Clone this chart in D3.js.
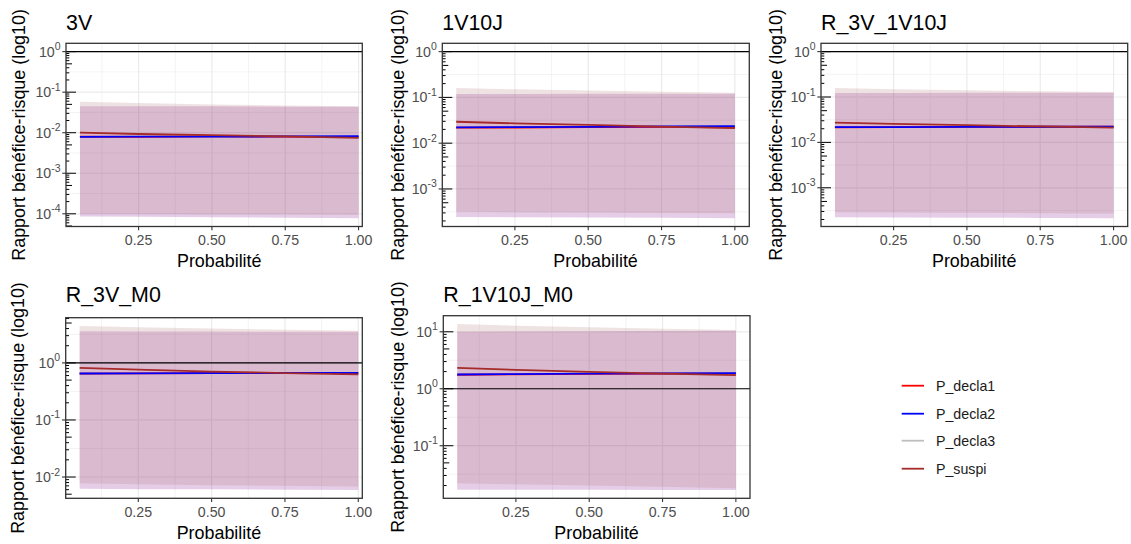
<!DOCTYPE html>
<html><head><meta charset="utf-8">
<script src="https://cdn.jsdelivr.net/npm/d3@7"></script>
<style>body{margin:0;background:#fff} svg{display:block}</style>
</head><body>
<svg id="chart" width="1131" height="544"></svg>
<script>
// ---------------- DATA ----------------
const probabilite = [0.05, 0.25, 0.50, 0.75, 1.00];
const seriesNames = ["P_decla1", "P_decla2", "P_decla3", "P_suspi"];
const seriesColors = ["#ff0000", "#0000ff", "#bebebe", "#a52a2a"];
const panelTitles = ["3V", "1V10J", "R_3V_1V10J", "R_3V_M0", "R_1V10J_M0"];
const xTickValues = [0.25, 0.50, 0.75, 1.00];
const xTickLabels = ["0.25", "0.50", "0.75", "1.00"];
const refLine = 1;

// 3V
const est_3V = [
  [0.0080, 0.0079, 0.0081, 0.0080, 0.0078],
  [0.0079, 0.0080, 0.0080, 0.0081, 0.0082],
  [0.0079, 0.0080, 0.0080, 0.0081, 0.0081],
  [0.0100, 0.0093, 0.0087, 0.0081, 0.0075]
];
const low_3V = [
  [8.6e-5, 8.4e-5, 8.2e-5, 8.0e-5, 7.8e-5],
  [8.6e-5, 8.4e-5, 8.2e-5, 8.0e-5, 7.8e-5],
  [1.0e-4, 9.9e-5, 9.8e-5, 9.7e-5, 9.6e-5],
  [1.0e-4, 9.9e-5, 9.8e-5, 9.7e-5, 9.6e-5]
];
const high_3V = [
  [0.045, 0.045, 0.045, 0.044, 0.044],
  [0.045, 0.045, 0.045, 0.044, 0.044],
  [0.058, 0.054, 0.050, 0.047, 0.045],
  [0.058, 0.054, 0.050, 0.047, 0.045]
];

// 1V10J
const est_1V10J = [
  [0.0218, 0.0220, 0.0225, 0.0228, 0.0222],
  [0.0221, 0.0224, 0.0228, 0.0232, 0.0237],
  [0.0220, 0.0223, 0.0227, 0.0231, 0.0235],
  [0.0294, 0.0271, 0.0250, 0.0231, 0.0214]
];
const low_1V10J = [
  [2.45e-4, 2.42e-4, 2.38e-4, 2.34e-4, 2.3e-4],
  [2.45e-4, 2.42e-4, 2.38e-4, 2.34e-4, 2.3e-4],
  [3.2e-4, 3.1e-4, 3.05e-4, 3.0e-4, 2.95e-4],
  [3.2e-4, 3.1e-4, 3.05e-4, 3.0e-4, 2.95e-4]
];
const high_1V10J = [
  [0.119, 0.119, 0.120, 0.120, 0.120],
  [0.119, 0.119, 0.120, 0.120, 0.120],
  [0.160, 0.150, 0.141, 0.133, 0.127],
  [0.160, 0.150, 0.141, 0.133, 0.127]
];

// R_3V_1V10J
const est_R_3V_1V10J = [
  [0.0214, 0.0216, 0.0219, 0.0221, 0.0222],
  [0.0216, 0.0217, 0.0219, 0.0221, 0.0223],
  [0.0216, 0.0217, 0.0219, 0.0221, 0.0223],
  [0.0274, 0.0257, 0.0240, 0.0225, 0.0212]
];
const low_R_3V_1V10J = [
  [2.25e-4, 2.22e-4, 2.2e-4, 2.17e-4, 2.14e-4],
  [2.25e-4, 2.22e-4, 2.2e-4, 2.17e-4, 2.14e-4],
  [2.9e-4, 2.85e-4, 2.8e-4, 2.75e-4, 2.7e-4],
  [2.9e-4, 2.85e-4, 2.8e-4, 2.75e-4, 2.7e-4]
];
const high_R_3V_1V10J = [
  [0.123, 0.123, 0.124, 0.124, 0.124],
  [0.123, 0.123, 0.124, 0.124, 0.124],
  [0.158, 0.149, 0.141, 0.134, 0.129],
  [0.158, 0.149, 0.141, 0.134, 0.129]
];

// R_3V_M0
const est_R_3V_M0 = [
  [0.650, 0.655, 0.660, 0.665, 0.660],
  [0.652, 0.656, 0.660, 0.665, 0.670],
  [0.652, 0.656, 0.660, 0.665, 0.670],
  [0.818, 0.760, 0.705, 0.663, 0.627]
];
const low_R_3V_M0 = [
  [0.0062, 0.0061, 0.0061, 0.0060, 0.0059],
  [0.0062, 0.0061, 0.0061, 0.0060, 0.0059],
  [0.0078, 0.0075, 0.0072, 0.0070, 0.0068],
  [0.0078, 0.0075, 0.0072, 0.0070, 0.0068]
];
const high_R_3V_M0 = [
  [3.58, 3.56, 3.54, 3.52, 3.50],
  [3.58, 3.56, 3.54, 3.52, 3.50],
  [4.45, 4.20, 4.00, 3.80, 3.65],
  [4.45, 4.20, 4.00, 3.80, 3.65]
];

// R_1V10J_M0
const est_R_1V10J_M0 = [
  [1.76, 1.79, 1.82, 1.84, 1.85],
  [1.78, 1.81, 1.84, 1.86, 1.88],
  [1.78, 1.81, 1.84, 1.86, 1.88],
  [2.33, 2.15, 1.98, 1.85, 1.74]
];
const low_R_1V10J_M0 = [
  [0.0169, 0.0168, 0.0168, 0.0167, 0.0167],
  [0.0169, 0.0168, 0.0168, 0.0167, 0.0167],
  [0.022, 0.021, 0.020, 0.019, 0.018],
  [0.022, 0.021, 0.020, 0.019, 0.018]
];
const high_R_1V10J_M0 = [
  [10.0, 10.1, 10.2, 10.3, 10.4],
  [10.0, 10.1, 10.2, 10.3, 10.4],
  [13.7, 12.8, 12.0, 11.3, 10.8],
  [13.7, 12.8, 12.0, 11.3, 10.8]
];

const panelEst = [est_3V, est_1V10J, est_R_3V_1V10J, est_R_3V_M0, est_R_1V10J_M0];
const panelLow = [low_3V, low_1V10J, low_R_3V_1V10J, low_R_3V_M0, low_R_1V10J_M0];
const panelHigh = [high_3V, high_1V10J, high_R_3V_1V10J, high_R_3V_M0, high_R_1V10J_M0];

// ---------------- LAYOUT ----------------
const layout = [
  {left: 66,    right: 362.3,  top: 43.3,  bottom: 226.5, titleY: 30,  yTitleX: 25},
  {left: 442.3, right: 749.3,  top: 43.3,  bottom: 226.5, titleY: 30,  yTitleX: 403.5},
  {left: 821,   right: 1127.7, top: 43.3,  bottom: 226.5, titleY: 30,  yTitleX: 782},
  {left: 65.7,  right: 362.3,  top: 317.7, bottom: 498.3, titleY: 302, yTitleX: 24},
  {left: 443.3, right: 750,    top: 315.7, bottom: 498.3, titleY: 302, yTitleX: 404}
];
const FONT = "'Liberation Sans', Arial, sans-serif";
const xDomain = [0.0025, 1.0475];
const xWidth = 306.5;
const drawOrder = [2, 0, 1, 3];

const svg = d3.select("#chart");
svg.append("rect").attr("width", 1131).attr("height", 544).attr("fill", "#fff");

panelTitles.forEach((title, p) => {
  const L = layout[p];
  const est = panelEst[p], low = panelLow[p], high = panelHigh[p];
  const g = svg.append("g");

  const x = d3.scaleLinear().domain(xDomain).range([L.left, L.left + xWidth]);

  let lmin = Math.log10(d3.min(low.flat()));
  let lmax = Math.log10(Math.max(d3.max(high.flat()), refLine));
  lmin = Math.min(lmin, 0); lmax = Math.max(lmax, 0);
  const pad = (lmax - lmin) * 0.05;
  const y = d3.scaleLog().domain([Math.pow(10, lmin - pad), Math.pow(10, lmax + pad)])
    .range([L.bottom, L.top]);
  const [d0, d1] = y.domain();

  const clipId = "clip" + p;
  g.append("clipPath").attr("id", clipId).append("rect")
    .attr("x", L.left).attr("y", L.top).attr("width", L.right - L.left).attr("height", L.bottom - L.top);

  const plot = g.append("g").attr("clip-path", `url(#${clipId})`);
  plot.append("rect").attr("x", L.left).attr("y", L.top)
    .attr("width", L.right - L.left).attr("height", L.bottom - L.top).attr("fill", "#fff");

  // grid
  const e0 = Math.floor(Math.log10(d0)), e1 = Math.ceil(Math.log10(d1));
  const decades = d3.range(e0, e1 + 1);
  const minorY = decades.map(e => Math.pow(10, e + 0.5));
  const majorY = decades.map(e => Math.pow(10, e)).filter(v => v >= d0 && v <= d1);
  const minorX = [0.125, 0.375, 0.625, 0.875];
  plot.selectAll(".gmy").data(minorY).join("line")
    .attr("x1", L.left).attr("x2", L.right).attr("y1", d => y(d)).attr("y2", d => y(d))
    .attr("stroke", "#ebebeb").attr("stroke-width", 0.6);
  plot.selectAll(".gmx").data(minorX).join("line")
    .attr("x1", d => x(d)).attr("x2", d => x(d)).attr("y1", L.top).attr("y2", L.bottom)
    .attr("stroke", "#ebebeb").attr("stroke-width", 0.6);
  plot.selectAll(".gMy").data(majorY).join("line")
    .attr("x1", L.left).attr("x2", L.right).attr("y1", d => y(d)).attr("y2", d => y(d))
    .attr("stroke", "#ebebeb").attr("stroke-width", 1.2);
  plot.selectAll(".gMx").data(xTickValues).join("line")
    .attr("x1", d => x(d)).attr("x2", d => x(d)).attr("y1", L.top).attr("y2", L.bottom)
    .attr("stroke", "#ebebeb").attr("stroke-width", 1.2);

  // ribbons
  seriesNames.forEach((s, i) => {
    const pts = probabilite.map((xv, j) => ({x: xv, lo: low[i][j], hi: high[i][j]}));
    const area = d3.area().x(d => x(d.x)).y0(d => y(d.lo)).y1(d => y(d.hi));
    plot.append("path").datum(pts).attr("d", area)
      .attr("fill", seriesColors[i]).attr("fill-opacity", 0.1);
  });

  // reference line
  plot.append("line").attr("x1", L.left).attr("x2", L.right)
    .attr("y1", y(refLine)).attr("y2", y(refLine))
    .attr("stroke", "#000").attr("stroke-width", 1.1);

  // lines
  drawOrder.forEach(i => {
    const pts = probabilite.map((xv, j) => ({x: xv, v: est[i][j]}));
    const line = d3.line().x(d => x(d.x)).y(d => y(d.v));
    plot.append("path").datum(pts).attr("d", line)
      .attr("fill", "none").attr("stroke", seriesColors[i]).attr("stroke-width", 1.8);
  });

  // log ticks (inside, left)
  const logTicks = [];
  decades.forEach(e => {
    for (let m = 1; m <= 9; m++) {
      const v = m * Math.pow(10, e);
      if (v >= d0 && v <= d1) logTicks.push({v, len: m === 1 ? 10 : (m === 5 ? 6 : 3.3)});
    }
  });
  g.selectAll(".lt").data(logTicks).join("line")
    .attr("x1", L.left).attr("x2", d => L.left + d.len)
    .attr("y1", d => y(d.v)).attr("y2", d => y(d.v))
    .attr("stroke", "#000").attr("stroke-width", 1);

  // border
  g.append("rect").attr("x", L.left).attr("y", L.top)
    .attr("width", L.right - L.left).attr("height", L.bottom - L.top)
    .attr("fill", "none").attr("stroke", "#333").attr("stroke-width", 1.3);

  // x axis ticks and labels
  g.selectAll(".xt").data(xTickValues).join("line")
    .attr("x1", d => x(d)).attr("x2", d => x(d)).attr("y1", L.bottom).attr("y2", L.bottom + 3.7)
    .attr("stroke", "#333").attr("stroke-width", 1.1);
  g.selectAll(".xl").data(xTickValues).join("text")
    .attr("x", d => x(d)).attr("y", L.bottom + 18.8)
    .attr("text-anchor", "middle").attr("font-family", FONT).attr("font-size", 14.2)
    .attr("fill", "#4d4d4d").text((d, k) => xTickLabels[k]);

  // y axis ticks and labels
  g.selectAll(".yt").data(majorY).join("line")
    .attr("x1", L.left - 3.7).attr("x2", L.left).attr("y1", d => y(d)).attr("y2", d => y(d))
    .attr("stroke", "#333").attr("stroke-width", 1.1);
  majorY.forEach(v => {
    const t = g.append("text").attr("x", L.left - 5.5).attr("y", y(v) + 5)
      .attr("text-anchor", "end").attr("font-family", FONT).attr("font-size", 14.2).attr("fill", "#4d4d4d");
    t.append("tspan").text("10");
    t.append("tspan").attr("dy", -6.5).attr("font-size", 10.5).text(String(Math.round(Math.log10(v))));
  });

  // titles
  g.append("text").attr("x", L.left).attr("y", L.titleY)
    .attr("font-family", FONT).attr("font-size", 21.4).attr("fill", "#000").text(title);
  g.append("text").attr("x", (L.left + L.left + xWidth) / 2).attr("y", L.bottom + 40.3)
    .attr("text-anchor", "middle").attr("font-family", FONT).attr("font-size", 17.9)
    .attr("fill", "#000").text("Probabilité");
  g.append("text")
    .attr("transform", `translate(${L.yTitleX},${(L.top + L.bottom) / 2}) rotate(-90)`)
    .attr("text-anchor", "middle").attr("font-family", FONT).attr("font-size", 17.9)
    .attr("fill", "#000").text("Rapport bénéfice-risque (log10)");
});

// legend
const legendY = [385.7, 413.7, 440.7, 468.7];
const lg = svg.append("g");
seriesNames.forEach((s, i) => {
  lg.append("line").attr("x1", 901.7).attr("x2", 924).attr("y1", legendY[i]).attr("y2", legendY[i])
    .attr("stroke", seriesColors[i]).attr("stroke-width", 1.8);
  lg.append("text").attr("x", 936).attr("y", legendY[i] + 5)
    .attr("font-family", FONT).attr("font-size", 14.2).attr("fill", "#1a1a1a").text(s);
});
</script>
</body></html>
